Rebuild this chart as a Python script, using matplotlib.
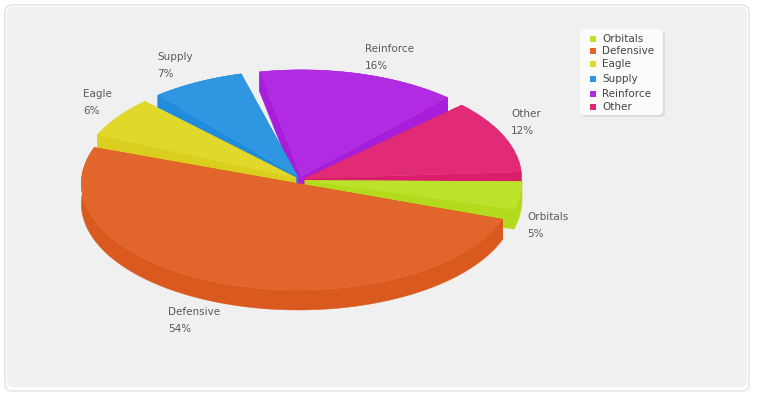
import colorsys

import matplotlib
matplotlib.use("Agg")
import matplotlib.pyplot as plt
import numpy as np
from matplotlib.colors import to_rgb
from matplotlib.patches import FancyBboxPatch, Polygon, Rectangle

categories = ["Orbitals", "Defensive", "Eagle", "Supply", "Reinforce", "Other"]
# share of the circle as drawn (3D projection, so not quite the printed label)
shares = [5.3, 51.2, 7.22, 8.06, 15.97, 12.25]
pct_labels = ["5%", "54%", "6%", "7%", "16%", "12%"]
colors = ["#bde22b", "#e2652b", "#e2d82b", "#2f96e2", "#b02be2", "#e22b76"]

label_xy = [(527, 217), (168, 312), (83, 94), (157, 57), (365, 49), (511, 114)]
legend_y = [39, 51, 64, 79, 94, 107]

CX, CY = 300, 180
RX, RATIO = 217, 0.49
DEPTH = 20
PULL = 5
GAP = 2.0
START = 1.5
TEXT = "#5a5a5a"


def darker(color, f=0.92):
    h, l, s = colorsys.rgb_to_hls(*to_rgb(color))
    return colorsys.hls_to_rgb(h, l * f, s)


def arc(cx, cy, a0, a1, n=80):
    t = np.radians(np.linspace(a0, a1, n))
    return np.column_stack([cx + RX * np.cos(t), cy - RX * RATIO * np.sin(t)])


fig = plt.figure(figsize=(7.6, 4), dpi=100)
ax = fig.add_axes([0, 0, 1, 1])
ax.set_xlim(0, 760)
ax.set_ylim(400, 0)
ax.axis("off")

ax.add_patch(FancyBboxPatch((5, 5), 744, 386, boxstyle="round,pad=0,rounding_size=7",
                            fc="white", ec="#e2e2e2", lw=1))
ax.add_patch(FancyBboxPatch((7, 7), 740, 380, boxstyle="round,pad=0,rounding_size=6",
                            fc="#f0f0f0", ec="none"))

# slices run clockwise from START
ends = START - np.cumsum(shares) * 3.6
starts = np.r_[START, ends[:-1]]
slices = []
for i, (a0, a1) in enumerate(zip(starts, ends)):
    mid = np.radians((a0 + a1) / 2)
    cx = CX + PULL * np.cos(mid)
    cy = CY - PULL * RATIO * np.sin(mid) * 1.6
    slices.append((i, a0 - GAP, a1 + GAP, cx, cy, np.sin(mid)))

# back slices first, so the front ones cover them
for i, a0, a1, cx, cy, _ in sorted(slices, key=lambda s: -s[5]):
    edge = arc(cx, cy, a0, a1)
    shade = darker(colors[i])
    drop = np.array([0, DEPTH])
    wall = np.vstack([edge, (edge + drop)[::-1]])
    ax.add_patch(Polygon(wall, fc=shade, ec=shade, lw=0.3))
    apex = np.array([cx, cy])
    for p in (edge[0], edge[-1]):
        side = np.vstack([apex, p, p + drop, apex + drop])
        ax.add_patch(Polygon(side, fc=shade, ec=shade, lw=0.3))
    ax.add_patch(Polygon(np.vstack([apex, edge]), fc=colors[i], ec=colors[i], lw=0.3))

for name, pct, (x, y) in zip(categories, pct_labels, label_xy):
    ax.text(x, y, name, fontsize=7.5, color=TEXT, va="center", ha="left")
    ax.text(x, y + 17, pct, fontsize=7.5, color=TEXT, va="center", ha="left")

ax.add_patch(FancyBboxPatch((582, 31), 83, 86, boxstyle="round,pad=0,rounding_size=5",
                            fc="#dcdcdc", ec="none"))
ax.add_patch(FancyBboxPatch((580, 29), 83, 86, boxstyle="round,pad=0,rounding_size=5",
                            fc="#fbfbfb", ec="none"))
for name, c, y in zip(categories, colors, legend_y):
    ax.add_patch(Rectangle((589.5, y - 3), 6, 6, fc=c, ec="none"))
    ax.text(602, y, name, fontsize=7.5, color="#444444", va="center", ha="left")

fig.savefig("out.png", dpi=100)
